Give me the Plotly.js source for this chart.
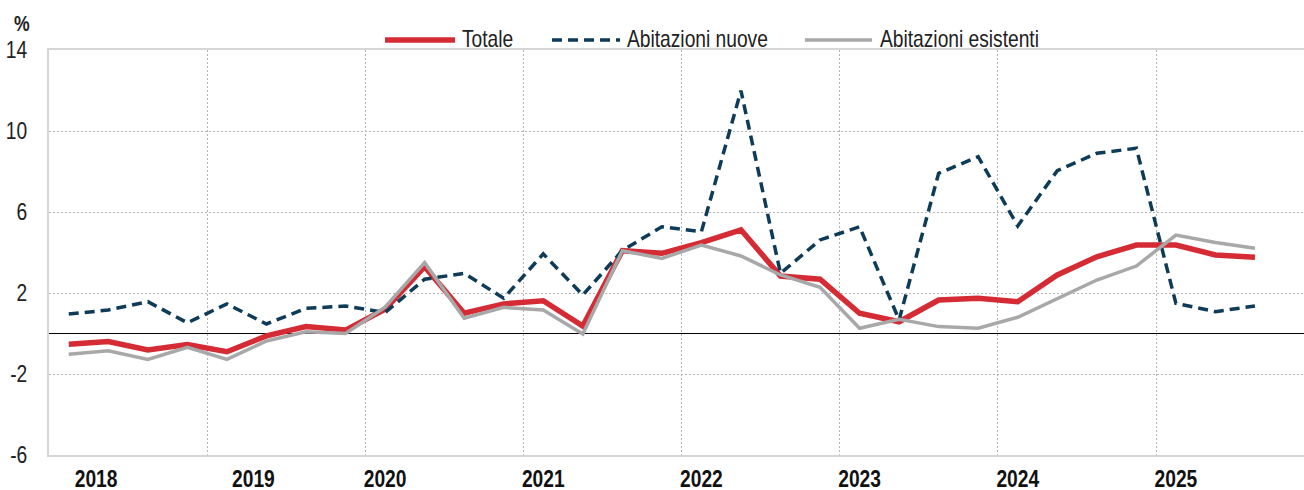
<!DOCTYPE html>
<html><head><meta charset="utf-8">
<script src="https://cdn.plot.ly/plotly-3.0.1.min.js"></script>
<style>html,body{margin:0;padding:0;background:#fff}#chart{width:1304px;height:490px}</style>
</head><body><div id="chart"></div>
<script>
const quarters = ['2018Q1','2018Q2','2018Q3','2018Q4','2019Q1','2019Q2','2019Q3','2019Q4',
  '2020Q1','2020Q2','2020Q3','2020Q4','2021Q1','2021Q2','2021Q3','2021Q4',
  '2022Q1','2022Q2','2022Q3','2022Q4','2023Q1','2023Q2','2023Q3','2023Q4',
  '2024Q1','2024Q2','2024Q3','2024Q4','2025Q1','2025Q2','2025Q3'];
const totale = [-0.53,-0.40,-0.81,-0.55,-0.90,-0.12,0.34,0.17,
  1.20,3.30,1.00,1.46,1.62,0.37,4.09,3.96,
  4.49,5.12,2.84,2.68,1.00,0.58,1.65,1.74,
  1.57,2.89,3.79,4.37,4.37,3.88,3.76];
const nuove = [0.96,1.16,1.57,0.53,1.46,0.47,1.24,1.36,
  1.03,2.68,2.97,1.74,3.93,1.90,4.10,5.27,
  5.03,11.99,2.97,4.62,5.27,0.67,7.91,8.73,
  5.31,8.04,8.90,9.15,1.49,1.08,1.36];
const esistenti = [-1.03,-0.85,-1.28,-0.68,-1.28,-0.37,0.09,0.00,
  1.30,3.50,0.75,1.29,1.16,-0.02,4.09,3.71,
  4.37,3.83,2.89,2.28,0.26,0.70,0.34,0.26,
  0.80,1.74,2.64,3.33,4.86,4.49,4.21];
const yearLabels = ['2018','2019','2020','2021','2022','2023','2024','2025'];
const yTickVals = [-6, -2, 2, 6, 10, 14];
const yTickText = ['-6', '-2', '2', '6', '10', '14'];
const seriesNames = ['Totale','Abitazioni nuove','Abitazioni esistenti'];

const x = quarters.map((q, i) => i);
const FONT = "'Liberation Sans', Arial, sans-serif";
const RED = '#d52b35', BLUE = '#0e3b58', GREY = '#a8a8a8';
const DASH = '10px,6px';
const CONDENSE = 0.8; // emulate a narrow typeface

// plot area in pixels
const L = 49, T = 50, B = 455, W = 1304;
const px = v => (v - L) / (W - L);
const py = v => (B - v) / (B - T);

const traces = [
  {x, y: totale, name: seriesNames[0], type: 'scatter', mode: 'lines',
   line: {color: RED, width: 5.5}, showlegend: false},
  {x, y: nuove, name: seriesNames[1], type: 'scatter', mode: 'lines',
   line: {color: BLUE, width: 3.5, dash: DASH}, showlegend: false},
  {x, y: esistenti, name: seriesNames[2], type: 'scatter', mode: 'lines',
   line: {color: GREY, width: 3.5}, showlegend: false}
];

const tickPos = [0.69, 4.67, 8, 12, 16, 20, 24, 28];
const yearBounds = [3.5, 7.5, 11.5, 15.5, 19.5, 23.5, 27.5];

const legendItems = [
  {x0: 385, x1: 455, tx: 460, color: RED, width: 5.5, dash: 'solid', name: seriesNames[0]},
  {x0: 552, x1: 620, tx: 625, color: BLUE, width: 3.5, dash: DASH, name: seriesNames[1]},
  {x0: 805, x1: 872, tx: 878, color: GREY, width: 3.5, dash: 'solid', name: seriesNames[2]}
];
const shapes = legendItems.map(it => ({
  type: 'line', xref: 'paper', yref: 'paper', x0: px(it.x0), x1: px(it.x1), y0: py(40), y1: py(40),
  line: {color: it.color, width: it.width, dash: it.dash}
}));
const annotations = legendItems.map(it => ({
  xref: 'paper', yref: 'paper', x: px(it.tx), y: py(39), xanchor: 'left', yanchor: 'middle',
  text: it.name, showarrow: false, font: {family: FONT, size: 24, color: '#222'}
}));
annotations.push({xref: 'paper', yref: 'paper', x: px(12), y: py(24), xanchor: 'left', yanchor: 'middle',
  text: '<b>%</b>', showarrow: false, font: {family: FONT, size: 22, color: '#222'}});

const layout = {
  width: 1304, height: 490,
  margin: {l: L, r: 0, t: T, b: 490 - B, pad: 0},
  paper_bgcolor: '#fff', plot_bgcolor: '#fff',
  showlegend: false,
  font: {family: FONT, color: '#222'},
  xaxis: {
    range: [-0.5, 31.24], tickmode: 'array', tickvals: tickPos, ticktext: yearLabels,
    tickfont: {family: FONT, size: 24, color: '#111', weight: 'bold'},
    showgrid: false, zeroline: false, ticks: '', ticklabelstandoff: 1,
    showline: true, linecolor: '#d6d6d6', linewidth: 2, mirror: true,
    minor: {tickmode: 'array', tickvals: yearBounds, showgrid: true, gridcolor: '#b4b4b4',
            gridwidth: 1, griddash: '2px,2px', ticks: ''}
  },
  yaxis: {
    range: [-6, 14], tickmode: 'array', tickvals: yTickVals, ticktext: yTickText,
    tickfont: {family: FONT, size: 24, color: '#222'},
    showgrid: true, gridcolor: '#b4b4b4', gridwidth: 1, griddash: '2px,2px',
    zeroline: true, zerolinecolor: '#000', zerolinewidth: 1.6,
    showline: true, linecolor: '#d6d6d6', linewidth: 2, ticks: '', ticklabelstandoff: 15
  },
  shapes, annotations
};

function condense(gd, s) {
  gd.querySelectorAll('svg text').forEach(t => {
    let ax;
    if (t.closest('.annotation')) {
      ax = t.getBBox().x;            // keep left edge of annotations
    } else {
      ax = parseFloat(t.getAttribute('x')) || 0;  // tick labels: keep their anchor
    }
    const prev = t.getAttribute('transform') || '';
    t.setAttribute('transform', (prev + ' translate(' + (ax * (1 - s)) + ',0) scale(' + s + ',1)').trim());
  });
}

Plotly.newPlot('chart', traces, layout, {displayModeBar: false, staticPlot: true})
  .then(gd => condense(gd, CONDENSE));
</script>
</body></html>
